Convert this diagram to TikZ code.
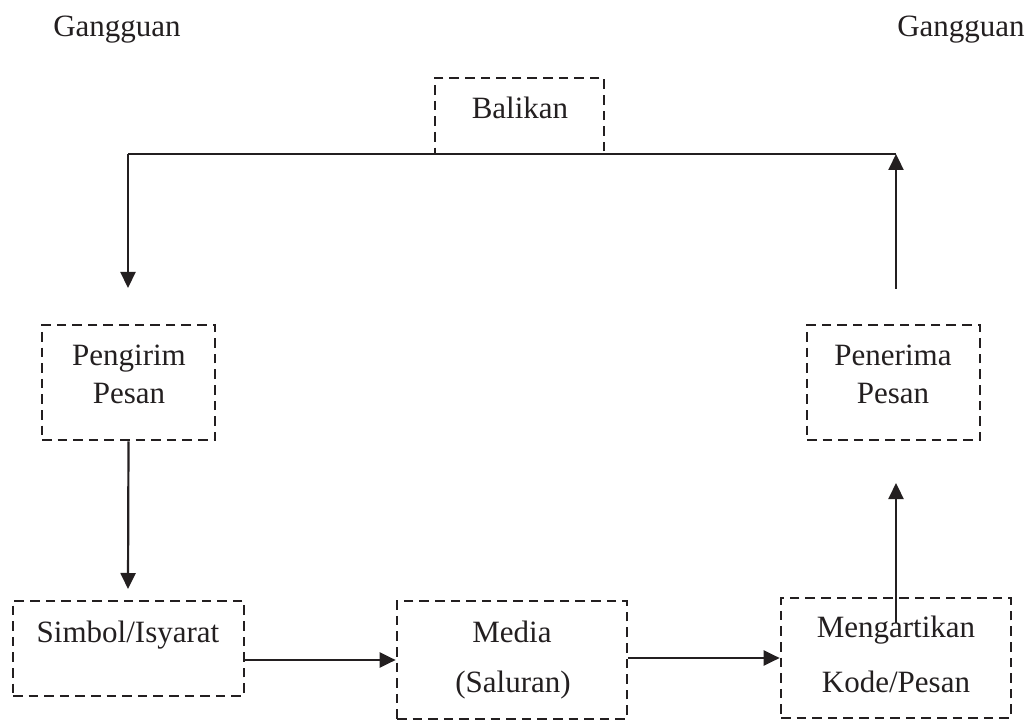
\documentclass[tikz,border=0pt]{standalone}
\usepackage{fontspec}
\setmainfont{Liberation Serif}
\usetikzlibrary{arrows.meta}
\definecolor{ink}{RGB}{35,31,32}
\begin{document}
\begin{tikzpicture}[x=0.5pt,y=-0.5pt,
  boxnode/.style={draw=ink, line width=1.35pt, dash pattern=on 4.8pt off 3pt, inner sep=0pt, anchor=center},
  lbl/.style={text=ink, font=\fontsize{15.5}{18}\selectfont, anchor=base, inner sep=0pt},
  conn/.style={draw=ink, line width=1.1pt},
  arr/.style={conn, -{Triangle[length=8pt,width=7.5pt]}}
]
\useasboundingbox (0,0) rectangle (1032,721);

% boxes (centre, width, height in px -> 0.5pt)
\node[boxnode, minimum width=84.5pt, minimum height=38pt] (balikan) at (519.5,116) {};
\node[boxnode, minimum width=86.5pt, minimum height=57.5pt] (pengirim) at (128.5,382.5) {};
\node[boxnode, minimum width=86.5pt, minimum height=57.5pt] (penerima) at (893.5,382.5) {};
\node[boxnode, minimum width=115.5pt, minimum height=47.5pt] (simbol) at (128.5,648.5) {};
\node[boxnode, minimum width=115pt, minimum height=59pt] (media) at (512,660) {};
\node[boxnode, minimum width=115pt, minimum height=60pt] (mengartikan) at (896,658) {};

% texts
\node[lbl] (g1) at (117,37) {Gangguan};
\node[lbl] (g2) at (961,37) {Gangguan};
\node[lbl] (tbal) at (520,119) {Balikan};
\node[lbl] (tpe1) at (129,365) {Pengirim};
\node[lbl] (tpe2) at (129,403) {Pesan};
\node[lbl] (tpn1) at (893,365) {Penerima};
\node[lbl] (tpn2) at (893,403) {Pesan};
\node[lbl] (tsim) at (128,642) {Simbol/Isyarat};
\node[lbl] (tmed1) at (512,642) {Media};
\node[lbl] (tmed2) at (513,692) {(Saluran)};
\node[lbl] (tmen1) at (896,637) {Mengartikan};
\node[lbl] (tmen2) at (896,692) {Kode/Pesan};

% connector points
\coordinate (rstart) at (896,289);
\coordinate (rtop) at (896,154);
\coordinate (ltop) at (128,154);
\coordinate (ltip) at (128,288);
\coordinate (mstart) at (896,623);
\coordinate (mtip) at (896,483);
\coordinate (stip) at (128,589);

% connectors
\draw[arr] (pengirim.south) -- (stip);
\draw[arr] (simbol.east |- media.west) -- (media.west);
\draw[arr] (media.east |- mengartikan.west) -- (mengartikan.west);
\draw[arr] (mstart) -- (mtip);
\draw[arr] (rstart) -- (rtop);
\draw[conn, line width=0.8pt] (rtop) -- (ltop);
\draw[arr] (ltop) -- (ltip);
\end{tikzpicture}
\end{document}
